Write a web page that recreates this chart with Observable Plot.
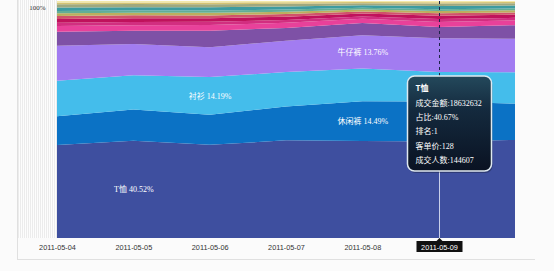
<!DOCTYPE html>
<html><head><meta charset="utf-8">
<script src="https://cdn.jsdelivr.net/npm/d3@7"></script>
<script src="https://cdn.jsdelivr.net/npm/@observablehq/plot@0.6"></script>
<style>
html,body{margin:0;padding:0;background:#fbfbfb;}
#wrap{position:relative;width:554px;height:271px;overflow:hidden;}
#panel{position:absolute;left:18px;top:0;width:39px;height:238px;background:repeating-linear-gradient(90deg,#ececec 0 1px,#fdfdfd 1px 2px);}
#frame{position:absolute;left:17px;top:-1px;width:517px;height:260px;border-left:1px solid #e0e0e0;border-bottom:1px solid #e0e0e0;}
#chart{position:absolute;left:0;top:0;}
</style></head><body>
<div id="wrap"><div id="panel"></div><div id="frame"></div><div id="chart"></div></div>
<script>
// ---- data ----
const dates = ["2011-05-04","2011-05-05","2011-05-06","2011-05-07","2011-05-08","2011-05-09","2011-05-10"];
const tickDates = ["2011-05-04","2011-05-05","2011-05-06","2011-05-07","2011-05-08","2011-05-09"];
const categories = ["T恤","休闲裤","衬衫","牛仔裤","外套","卫衣","夹克","毛衣","西装","风衣","马甲","针织衫","西裤","皮衣","其他"];
const tshirt      = [39.2, 41.0, 39.3, 41.2, 40.9, 40.67, 41.4];
const casualPants = [12.2, 13.2, 12.7, 14.3, 16.8, 16.9, 15.3];
const shirts      = [14.9, 14.5, 15.9, 14.5, 13.8, 12.5, 13.2];
const jeans       = [14.8, 13.2, 12.6, 13.2, 14.1, 14.2, 14.2];
const coats       = [5.9, 5.6, 7.0, 5.4, 5.1, 4.8, 5.7];
const hoodies     = [2.4, 2.3, 2.4, 2.2, 1.8, 2.1, 2.0];
const jackets     = [1.4, 1.3, 1.3, 1.2, 1.0, 1.2, 1.1];
const sweaters    = [1.6, 1.6, 1.5, 1.4, 1.2, 1.4, 1.3];
const suits       = [1.3, 1.3, 1.2, 1.1, 0.9, 1.1, 1.0];
const trench      = [1.1, 1.0, 1.1, 1.0, 0.8, 0.9, 0.9];
const vests       = [1.0, 1.0, 1.0, 0.9, 0.7, 0.8, 0.8];
const knits       = [1.5, 1.4, 1.4, 1.3, 1.1, 1.3, 1.2];
const trousers    = [1.3, 1.3, 1.2, 1.1, 0.9, 1.03, 1.0];
const leather     = [0.8, 0.7, 0.8, 0.7, 0.5, 0.6, 0.5];
const others      = [0.6, 0.6, 0.6, 0.5, 0.4, 0.5, 0.4];
const series = [tshirt, casualPants, shirts, jeans, coats, hoodies, jackets, sweaters, suits, trench, vests, knits, trousers, leather, others];
const colors = ["#3e4f9f","#0b72c5","#44bdeb","#a27cf1","#7e51a6","#e8419a","#d22e80","#c0125c","#d0526a","#bcae5e","#62ae95","#3d9ba0","#9fa87e","#d3c273","#f4e9aa"];

const labelCategories = ["T恤","休闲裤","衬衫","牛仔裤"];
const labelDates      = ["2011-05-05","2011-05-08","2011-05-06","2011-05-08"];
const labelShares     = ["40.52%","14.49%","14.19%","13.76%"];

const yTicks = [100];
const yTickLabels = ["100%"];

const tipDate = "2011-05-09";
const tipTitle = "T恤";
const tipLines = ["成交金额:18632632","占比:40.67%","排名:1","客单价:128","成交人数:144607"];

// ---- table ----
const rows = [];
categories.forEach((c, i) => dates.forEach((d, j) => rows.push({cat: c, date: new Date(d), value: series[i][j]})));
function labelFor(d) {
  const k = labelCategories.indexOf(d.cat);
  if (k < 0) return null;
  return +new Date(labelDates[k]) === +d.date ? `${d.cat} ${labelShares[k]}` : null;
}

const chart = Plot.plot({
  width: 554, height: 271,
  marginLeft: 57, marginRight: 39, marginTop: 1, marginBottom: 33,
  style: {background: "transparent", fontFamily: "'Liberation Sans', Arial, sans-serif", fontSize: "7.3px", color: "#333", overflow: "visible"},
  x: {type: "utc", domain: [new Date(dates[0]), new Date(dates[dates.length - 1])],
      ticks: tickDates.map(d => new Date(d)), tickFormat: d3.utcFormat("%Y-%m-%d"),
      tickSize: 0, tickPadding: 6, label: null},
  y: {domain: [0, 100], axis: null},
  color: {domain: categories, range: colors},
  marks: [
    Plot.areaY(rows, Plot.stackY({x: "date", y: "value", z: "cat", fill: "cat", order: null})),
    Plot.text(rows, Plot.stackY({x: "date", y: "value", z: "cat", order: null, text: labelFor,
      fill: "white", fontSize: 8, fontFamily: "'Liberation Serif', 'Noto Sans CJK SC', serif"})),
    Plot.text(yTicks, {y: d => d, text: yTickLabels, frameAnchor: "left", textAnchor: "end",
      dx: -12, dy: 6, fill: "#333", fontSize: 7, fontFamily: "'Liberation Serif', serif"})
  ]
});
document.getElementById("chart").appendChild(chart);

// ---- hover overlay (tooltip) ----
const xs = chart.scale("x"), ys = chart.scale("y");
const px = Math.round(xs.apply(new Date(tipDate))) + 0.5;
const yTop = ys.apply(100), yBot = ys.apply(0);
const svg = d3.select(chart);
const defs = svg.append("defs");
const g1 = defs.append("linearGradient").attr("id", "tipg").attr("x1", 0).attr("y1", 0).attr("x2", 0).attr("y2", 1);
g1.append("stop").attr("offset", "0%").attr("stop-color", "#24495c");
g1.append("stop").attr("offset", "35%").attr("stop-color", "#142a3e");
g1.append("stop").attr("offset", "100%").attr("stop-color", "#0a1222");
const bx = px - 32, by = 76, bw = 84, bh = 95;
const ov = svg.append("g").attr("text-anchor", "start");
ov.append("line").attr("x1", px).attr("x2", px).attr("y1", yTop).attr("y2", by)
  .attr("stroke", "#1c2448").attr("stroke-width", 1).attr("stroke-dasharray", "3,3");
ov.append("line").attr("x1", px).attr("x2", px).attr("y1", by + bh).attr("y2", yBot + 1)
  .attr("stroke", "#c9d0ea").attr("stroke-width", 1);
ov.append("rect").attr("x", bx + 1).attr("y", by + 2).attr("width", bw).attr("height", bh).attr("rx", 7)
  .attr("fill", "rgba(0,0,0,0.25)");
ov.append("rect").attr("x", bx).attr("y", by).attr("width", bw).attr("height", bh).attr("rx", 7)
  .attr("fill", "url(#tipg)").attr("stroke", "#dfe9f0").attr("stroke-width", 1.5);
const tf = "'Liberation Serif', 'Noto Sans CJK SC', serif";
ov.append("text").attr("x", bx + 8).attr("y", by + 15).attr("text-anchor", "start").attr("fill", "white").attr("font-size", 8)
  .attr("font-weight", "bold").attr("font-family", "'Noto Sans CJK SC', sans-serif").text(tipTitle);
tipLines.forEach((t, i) => ov.append("text").attr("x", bx + 8).attr("y", by + 29.5 + i * 14.4)
  .attr("text-anchor", "start").attr("fill", "white").attr("font-size", 8).attr("font-family", tf).text(t));
// hovered x label
ov.append("rect").attr("x", px - 23).attr("y", 241).attr("width", 46).attr("height", 11).attr("fill", "#111");
ov.append("path").attr("d", `M${px - 3},241L${px},238L${px + 3},241Z`).attr("fill", "#111");
ov.append("text").attr("x", px).attr("y", 249.5).attr("text-anchor", "middle").attr("fill", "white")
  .attr("font-size", 7.3).attr("font-family", "'Liberation Sans', Arial, sans-serif").text(tipDate);
</script>
</body></html>
